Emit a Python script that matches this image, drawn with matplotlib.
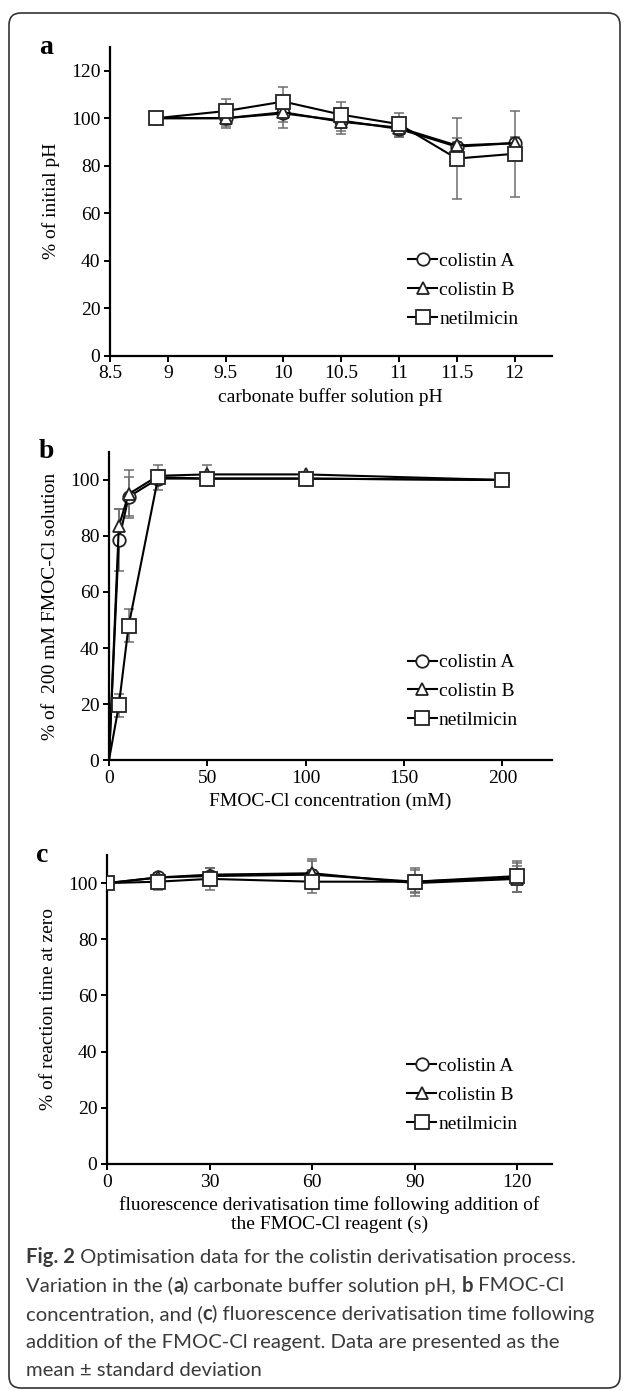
import matplotlib
matplotlib.use('Agg')
import matplotlib.pyplot as plt
from matplotlib.patches import FancyBboxPatch

W, H = 629, 1391
series = ['colistin A', 'colistin B', 'netilmicin']
markers = ['o', '^', 's']

# panel a: carbonate buffer pH
x_a = [8.9, 9.5, 10, 10.5, 11, 11.5, 12]
colA_a = [100, 100, 102, 99, 95.5, 88, 89.5]
colB_a = [100, 100, 102.5, 98.5, 96, 88.5, 89.5]
net_a = [100, 103, 107, 101.5, 97.5, 83, 85]
errA_a = [0.5, 4, 6, 4.5, 3.5, 2, 2]
errB_a = [0.5, 3.5, 4, 5, 4, 3, 2.5]
errN_a = [0.5, 5, 6, 5.5, 4.5, 17, 18]

# panel b: FMOC-Cl concentration (mM)
x_b = [0, 5, 10, 25, 50, 100, 200]
colA_b = [0, 78.5, 94, 100.5, 100.5, 100.5, 100]
colB_b = [0, 83.5, 95, 101.5, 102, 102, 100]
net_b = [0, 19.5, 48, 101, 100.5, 100.5, 100]
errA_b = [0, 11, 7, 1.5, 2, 1.5, 0.5]
errB_b = [0, 6, 8.5, 2, 3.5, 1, 0.5]
errN_b = [0, 4, 6, 4.5, 2, 1, 0.5]

# panel c: derivatisation time (s)
x_c = [0, 15, 30, 60, 90, 120]
colA_c = [100, 102, 102.5, 103, 100.5, 102]
colB_c = [100, 102, 103, 103.5, 100, 101.5]
net_c = [100, 100.5, 101.5, 100.5, 100.5, 102.5]
errA_c = [2, 1.5, 3, 5, 4, 5]
errB_c = [2, 1.5, 2.5, 5, 3, 4.5]
errN_c = [2, 3, 4, 4, 5, 5.5]

SERIF = 'Liberation Serif'
plt.rcParams['font.family'] = SERIF
FS = 14

fig = plt.figure(figsize=(W / 100, H / 100), dpi=100)


def box(left, top, right, bottom):
    return [left / W, 1 - bottom / H, (right - left) / W, (bottom - top) / H]


def panel(rect, xs, ys, errs, xlim, xticks, xticklabels, ylim, yticks, xlabel, ylabel, letter, leg_anchor, skip_first=False):
    ax = fig.add_axes(rect)
    for y, e, m, name in zip(ys, errs, markers, series):
        ax.errorbar(xs, y, yerr=e, fmt='none', ecolor='#6e6e6e', elinewidth=1.1, capsize=3.5, capthick=1.1, zorder=2)
        mk = list(range(1, len(xs))) if skip_first else None
        ax.plot(xs, y, color='black', lw=1.5, marker=m, markersize=9.5 if m == 's' else 9,
                markerfacecolor='white', markeredgecolor='#222222', markeredgewidth=1.3,
                markevery=mk, label=name, zorder=3)
    ax.set_xlim(*xlim)
    ax.set_ylim(*ylim)
    ax.set_xticks(xticks)
    ax.set_xticklabels(xticklabels)
    ax.set_yticks(yticks)
    for s in ['top', 'right']:
        ax.spines[s].set_visible(False)
    for s in ['left', 'bottom']:
        ax.spines[s].set_linewidth(1.6)
    ax.tick_params(direction='out', length=4, width=1.4, labelsize=FS, pad=3)
    ax.set_xlabel(xlabel, fontsize=FS, labelpad=4, linespacing=1.15)
    ax.set_ylabel(ylabel, fontsize=FS, labelpad=8)
    ax.legend(loc='upper left', bbox_to_anchor=leg_anchor, frameon=False, fontsize=FS,
              handlelength=1.5, handletextpad=0.1, labelspacing=0.58, borderaxespad=0, borderpad=0)
    ax.text(-0.16, 1.0, letter, transform=ax.transAxes, fontsize=20, fontweight='bold', va='center', ha='left')
    return ax


panel(box(110, 47, 551.5, 355.5), x_a, [colA_a, colB_a, net_a], [errA_a, errB_a, errN_a],
      (8.5, 12.32), [8.5, 9, 9.5, 10, 10.5, 11, 11.5, 12], ['8.5', '9', '9.5', '10', '10.5', '11', '11.5', '12'],
      (0, 130), range(0, 121, 20), 'carbonate buffer solution pH', '% of initial pH', 'a', (0.675, 0.335))

panel(box(109, 452, 551.5, 760), x_b, [colA_b, colB_b, net_b], [errA_b, errB_b, errN_b],
      (0, 225), [0, 50, 100, 150, 200], ['0', '50', '100', '150', '200'],
      (0, 110), range(0, 101, 20), 'FMOC-Cl concentration (mM)', '% of  200 mM FMOC-Cl solution', 'b', (0.675, 0.345),
      skip_first=True)

panel(box(107, 855, 551.5, 1164), x_c, [colA_c, colB_c, net_c], [errA_c, errB_c, errN_c],
      (0, 130), [0, 30, 60, 90, 120], ['0', '30', '60', '90', '120'],
      (0, 110), range(0, 101, 20), 'fluorescence derivatisation time following addition of\nthe FMOC-Cl reagent (s)',
      '% of reaction time at zero', 'c', (0.675, 0.345))

# rounded frame around the whole figure
frame = FancyBboxPatch((9, 3), 611, 1375, boxstyle='round,pad=0,rounding_size=12',
                       transform=None, fill=False, edgecolor='#333333', linewidth=1.2)
fig.patches.append(frame)

# caption with bold pieces
cap_lines = [
    [('Fig. 2', True), (' Optimisation data for the colistin derivatisation process.', False)],
    [('Variation in the (', False), ('a', True), (') carbonate buffer solution pH, ', False), ('b', True), (' FMOC-Cl', False)],
    [('concentration, and (', False), ('c', True), (') fluorescence derivatisation time following', False)],
    [('addition of the FMOC-Cl reagent. Data are presented as the', False)],
    [('mean \u00b1 standard deviation', False)],
]
renderer = fig.canvas.get_renderer()
y0 = 1257
for i, parts in enumerate(cap_lines):
    x = 26
    y = 1 - (y0 + i * 28.5) / H
    for txt, bold in parts:
        t = fig.text(x / W, y, txt, fontsize=14.6, family='Lato', color='#3a3a3a',
                     fontweight='bold' if bold else 'normal', va='center', ha='left')
        x += t.get_window_extent(renderer).width

fig.savefig('out.png', dpi=100)
